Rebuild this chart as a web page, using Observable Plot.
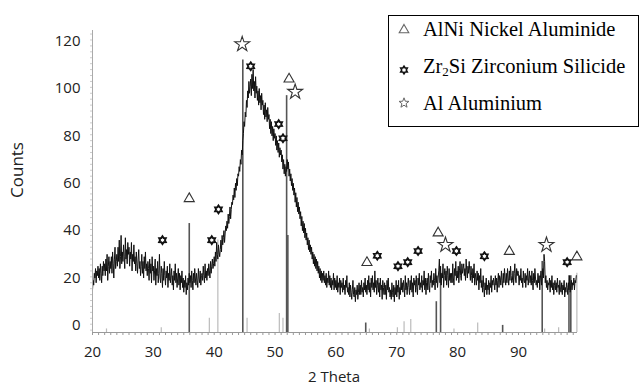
<!DOCTYPE html>
<html><head><meta charset="utf-8">
<script src="https://cdn.jsdelivr.net/npm/d3@7"></script>
<script src="https://cdn.jsdelivr.net/npm/@observablehq/plot@0.6"></script>
<style>
html,body{margin:0;padding:0;background:#fff;}
#wrap{position:relative;width:644px;height:385px;overflow:hidden;background:#fff;}
#legend{position:absolute;left:388px;top:15px;width:249px;height:110px;border:1.5px solid #000;background:#fff;font-family:"Liberation Serif","Times New Roman",serif;font-size:20.5px;color:#000;}
.row{position:absolute;left:0;height:24px;line-height:24px;white-space:nowrap;}
.row svg{position:absolute;left:8px;top:5px;}
.row span{position:absolute;left:34px;top:0;}
.row sub{font-size:13px;vertical-align:-3px;line-height:0;}
.atitle{position:absolute;font-family:"Open Sans",sans-serif;color:#222;font-size:15px;line-height:16px;white-space:nowrap;}
</style></head><body><div id="wrap"></div>
<script>
// ---- data ----
const thetaStart = 20, thetaStep = 0.1;
const counts = [
15,19,17,22,20,24,18,23,21,25, 20,24,19,26,22,18,25,21,27,23,
26,21,28,23,30,19,25,29,22,27, 24,29,22,31,26,20,28,33,24,27,
30,25,33,27,36,24,29,38,26,31, 27,34,29,24,37,28,32,26,35,30,
33,25,31,28,35,23,30,27,34,26, 29,23,31,26,22,28,32,24,27,21,
25,30,22,27,20,29,24,31,23,26, 21,27,24,19,28,22,26,18,29,23,
25,19,23,28,17,24,21,27,18,22, 30,20,18,25,22,16,24,19,27,21,
17,23,20,25,16,22,19,26,18,21, 24,17,21,15,23,19,26,18,22,16,
20,24,17,22,15,21,18,23,16,20, 14,19,16,21,13,18,15,20,17,22,
18,21,16,23,19,15,22,18,24,20, 17,22,19,16,24,20,18,23,17,21,
22,19,25,21,18,26,20,23,19,24, 21,26,23,20,27,22,25,28,24,26,
29,25,31,27,35,30,28,34,31,29, 32,36,31,38,34,37,40,35,39,42,
40,44,41,47,43,46,50,45,49,52, 51,55,53,58,54,60,57,62,59,64,
63,67,65,70,68,74,72,78,81,86, 84,90,88,95,92,99,96,103,98,101,
104,97,106,100,108,99,103,96,105,98, 101,95,99,93,100,94,97,91,98,93,
95,89,93,87,94,88,91,86,92,87, 89,83,87,81,86,80,84,78,83,79,
81,76,80,74,78,73,77,71,75,72, 74,69,72,66,70,64,68,63,67,65,
70,66,69,63,66,61,64,59,62,57, 60,55,58,52,56,50,54,48,52,47,
50,45,48,42,46,40,44,39,43,37, 41,36,39,34,37,32,36,31,34,30,
33,28,31,26,30,25,29,24,28,23, 27,22,25,20,24,19,23,18,22,19,
23,18,21,17,22,16,20,18,23,17, 21,16,20,15,19,17,22,15,20,16,
19,15,21,14,18,16,20,13,19,16, 18,14,20,15,17,13,19,16,21,14,
16,13,18,12,17,14,11,15,19,13, 12,16,10,15,13,17,11,14,18,13,
17,13,19,14,16,12,18,15,20,14, 17,13,19,15,21,14,18,12,20,16,
21,15,18,14,23,16,19,13,17,20, 14,18,12,20,15,17,11,19,16,13,
18,13,17,11,19,15,20,14,16,12, 15,11,18,14,12,17,10,16,13,19,
12,17,14,19,11,16,13,20,15,18, 14,19,16,12,21,15,18,13,17,20,
16,13,19,15,21,14,18,12,20,17, 19,14,21,16,13,20,17,22,15,18,
16,21,14,19,17,23,15,20,13,18, 20,15,22,17,14,21,18,23,16,19,
17,22,19,15,24,18,21,16,20,23, 28,18,25,17,22,20,26,16,21,24,
19,23,17,25,21,16,24,19,22,18, 22,18,26,20,17,24,21,27,19,23,
20,25,18,23,27,21,19,26,22,24, 26,21,24,19,28,23,20,25,22,27,
23,19,25,21,18,24,20,26,17,22, 20,17,23,19,22,15,21,18,24,16,
19,14,21,16,12,18,15,20,13,17, 15,19,13,18,16,21,14,19,17,20,
18,15,21,17,20,14,19,22,16,21, 20,17,23,19,16,22,18,24,20,17,
22,18,24,20,17,23,19,25,21,18, 19,23,17,22,26,20,18,24,21,23,
22,17,21,19,24,18,20,16,23,19, 18,22,16,21,19,24,17,20,23,18,
21,17,23,19,15,22,18,24,20,17, 19,16,22,18,21,15,20,23,17,21,
24,20,30,27,18,21,16,19,15,18, 17,20,14,19,16,21,15,18,13,17,
19,15,18,14,20,16,17,13,19,15, 14,18,13,17,15,19,12,16,14,18,
16,13,18,15,21,14,17,19,15,18, 17,20,15,19,18,21
];
// reference stick patterns
const strongTheta  = [35.9, 44.7, 51.9, 52.1, 64.9, 87.4, 76.5, 77.2, 93.9, 98.3, 98.6];
const strongCounts = [43, 112, 97, 38, 1, 0, 10, 22, 27, 21, 21];
const weakTheta  = [22.3, 31.3, 39.2, 40.6, 45.4, 50.7, 51.3, 65.5, 70.1, 71.2, 72.3, 79.4, 83.3, 94.3, 96.6, 99.6];
const weakCounts = [-1.5, -1, 3, 36, 3, 5, 3, -1.5, -1, 1.5, 2.5, -1.5, 1, -1.5, -1, 22];
// phase markers
const alniTheta  = [35.9, 52.3, 65.1, 76.8, 88.5, 99.6];
const alniCounts = [53.5, 104, 26.5, 39, 31.2, 28.9];
const zrsiTheta  = [31.5, 39.6, 40.7, 46.0, 50.6, 51.3, 66.8, 70.2, 71.8, 73.5, 79.8, 84.4, 98.0];
const zrsiCounts = [36, 36, 49, 109.4, 85, 79, 29.4, 25, 26.7, 31.4, 31.4, 29.2, 26.7];
const alTheta  = [44.6, 53.3, 78.0, 94.6];
const alCounts = [118.7, 98.6, 34, 34];
const xTicks = [20, 30, 40, 50, 60, 70, 80, 90];
const yTicks = [0, 20, 40, 60, 80, 100, 120];
const legendLabels = ["AlNi Nickel Aluminide", "Zr<sub>2</sub>Si Zirconium Silicide", "Al Aluminium"];
const xDomain = [20, 99.7], yDomain = [-3, 124.5];

// ---- build ----
const trace = counts.map((c, i) => ({theta: +(thetaStart + i * thetaStep).toFixed(1), counts: c}));
const pts = (xs, ys) => xs.map((x, i) => ({theta: x, counts: ys[i]}));
const strong = pts(strongTheta, strongCounts);
const weak = pts(weakTheta, weakCounts);
const base = yDomain[0];

const hexagram = {draw(ctx, size) {
  const R = Math.sqrt(size / Math.PI) * 1.05, r = R * 0.62;
  for (let k = 0; k < 12; k++) {
    const a = Math.PI / 6 * k - Math.PI / 2, rr = k % 2 ? r : R;
    const x = rr * Math.cos(a), y = rr * Math.sin(a);
    k ? ctx.lineTo(x, y) : ctx.moveTo(x, y);
  }
  ctx.closePath();
}};

const chart = Plot.plot({
  width: 644, height: 385,
  marginLeft: 92, marginRight: 67, marginTop: 30, marginBottom: 53,
  style: {fontFamily: "'Open Sans', sans-serif", fontSize: "15px", color: "#222", background: "#fff"},
  x: {domain: xDomain, label: null},
  y: {domain: yDomain, label: null},
  marks: [
    Plot.ruleX(weak, {x: "theta", y1: base, y2: "counts", stroke: "#bbb", strokeWidth: 1.2}),
    Plot.ruleX(strong, {x: "theta", y1: base, y2: "counts", stroke: "#555", strokeWidth: 1.6}),
    Plot.line(trace, {x: "theta", y: "counts", stroke: "#111", strokeWidth: 1}),
    Plot.ruleY([base], {stroke: "#999", strokeWidth: 1}),
    Plot.ruleX([xDomain[0]], {stroke: "#aaa", strokeWidth: 1}),
    Plot.axisX({ticks: d3.range(20, 100, 1), tickSize: 3, text: null, stroke: "#999"}),
    Plot.axisY({ticks: d3.range(-2, 124, 2.5), tickSize: 2, text: null, stroke: "#ccc"}),
    Plot.axisX({ticks: xTicks, tickSize: 0, tickPadding: 14}),
    Plot.axisY({ticks: yTicks, tickSize: 0, tickPadding: 12}),
    Plot.dot(pts(alniTheta, alniCounts), {x: "theta", y: "counts", symbol: "triangle2", r: 4.8, stroke: "#333", strokeWidth: 1.1, fill: "white"}),
    Plot.dot(pts(zrsiTheta, zrsiCounts), {x: "theta", y: "counts", symbol: hexagram, r: 3.7, stroke: "#111", strokeWidth: 1.9, fill: "white"}),
    Plot.dot(pts(alTheta, alCounts), {x: "theta", y: "counts", symbol: "star", r: 4.7, stroke: "#333", strokeWidth: 1.1, fill: "white"})
  ]
});
const wrap = document.getElementById("wrap");
wrap.appendChild(chart);

const yt = document.createElement("div");
yt.className = "atitle"; yt.textContent = "Counts";
yt.style.cssText = "left:17px;top:170px;transform:translate(-50%,-50%) rotate(-90deg);font-size:17px;line-height:18px;";
wrap.appendChild(yt);
const xt = document.createElement("div");
xt.className = "atitle"; xt.textContent = "2 Theta";
xt.style.cssText = "left:334px;top:376px;transform:translate(-50%,-50%);font-size:15px;";
wrap.appendChild(xt);

const syms = [
  '<svg width="14" height="14" viewBox="-7 -7 14 14"><path d="M0,-4.6L4.8,3.8H-4.8Z" fill="none" stroke="#666" stroke-width="1.1"/></svg>',
  '<svg width="14" height="14" viewBox="-7 -7 14 14" style="top:9px"><path d="' + (() => { let p = ""; for (let k = 0; k < 12; k++) { const a = Math.PI/6*k - Math.PI/2, rr = k % 2 ? 2.3 : 3.8; p += (k ? "L" : "M") + (rr*Math.cos(a)).toFixed(2) + "," + (rr*Math.sin(a)).toFixed(2); } return p + "Z"; })() + '" fill="white" stroke="#111" stroke-width="1.6"/></svg>',
  '<svg width="14" height="14" viewBox="-7 -7 14 14"><path d="' + (() => { let p = ""; for (let k = 0; k < 10; k++) { const a = Math.PI/5*k - Math.PI/2, rr = k % 2 ? 2.2 : 5.2; p += (k ? "L" : "M") + (rr*Math.cos(a)).toFixed(2) + "," + (rr*Math.sin(a)).toFixed(2); } return p + "Z"; })() + '" fill="none" stroke="#666" stroke-width="1"/></svg>'
];
const tops = [1, 38, 75];
const lg = document.createElement("div"); lg.id = "legend";
lg.innerHTML = legendLabels.map((t, i) => `<div class="row" style="top:${tops[i]}px">${syms[i]}<span>${t}</span></div>`).join("");
wrap.appendChild(lg);
</script></body></html>
